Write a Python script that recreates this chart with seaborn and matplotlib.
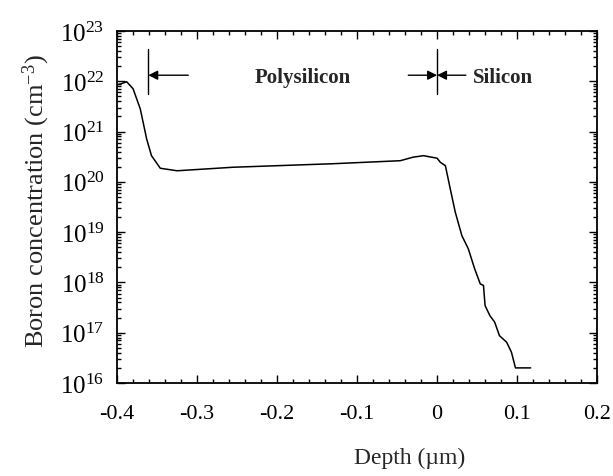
import numpy as np
import pandas as pd
import matplotlib
matplotlib.use("Agg")
import matplotlib.pyplot as plt
import matplotlib.ticker as ticker
import seaborn as sns

# depth in um, log10 of boron concentration (cm^-3)
depth = [-0.400, -0.395, -0.388, -0.380, -0.371, -0.363, -0.357, -0.346,
         -0.325, -0.255, -0.130, -0.046, -0.030, -0.017, 0.0, 0.004,
         0.0104, 0.0165, 0.0227, 0.031, 0.039, 0.043, 0.047, 0.054, 0.058,
         0.060, 0.066, 0.072, 0.078, 0.087, 0.093, 0.098, 0.117]
log_conc = [21.93, 21.95, 21.99, 21.85, 21.45, 20.85, 20.52, 20.27,
            20.22, 20.29, 20.36, 20.42, 20.49, 20.52, 20.47, 20.39,
            20.32, 19.86, 19.40, 18.93, 18.67, 18.47, 18.27, 17.97, 17.94,
            17.54, 17.34, 17.21, 16.94, 16.81, 16.61, 16.30, 16.30]

x_ticks = [-0.4, -0.3, -0.2, -0.1, 0, 0.1, 0.2]
x_tick_labels = ["-0.4", "-0.3", "-0.2", "-0.1", "0", "0.1", "0.2"]

# layer boundaries and annotation labels
boundaries = [-0.361, 0.0]
layer_names = ["Polysilicon", "Silicon"]


def decade_label(y, pos):
    return r"$10^{%d}$" % int(round(np.log10(y)))


def main():
    sns.set_style("ticks")
    plt.rcParams["font.family"] = ["Liberation Serif", "DejaVu Serif"]
    plt.rcParams["mathtext.fontset"] = "custom"
    plt.rcParams["mathtext.rm"] = "Liberation Serif"
    plt.rcParams["mathtext.it"] = "Liberation Serif:italic"

    df = pd.DataFrame({"Depth": depth, "Conc": 10 ** np.array(log_conc)})

    fig = plt.figure(figsize=(6.13, 4.77), dpi=100)
    ax = fig.add_axes([0.191, 0.195, 0.783, 0.738])

    sns.lineplot(x="Depth", y="Conc", data=df, ax=ax, color="black",
                 linewidth=1.1, sort=False)

    ax.set_yscale("log")
    ax.set_xlim(-0.4, 0.2)
    ax.set_ylim(1e16, 1e23)

    ax.set_xticks(x_ticks)
    ax.set_xticklabels(x_tick_labels)
    ax.xaxis.set_minor_locator(ticker.MultipleLocator(0.02))
    ax.yaxis.set_major_locator(ticker.LogLocator(base=10, numticks=10))
    ax.yaxis.set_major_formatter(ticker.FuncFormatter(decade_label))
    ax.yaxis.set_minor_locator(ticker.LogLocator(base=10, subs=np.arange(2, 10), numticks=20))
    ax.yaxis.set_minor_formatter(ticker.NullFormatter())

    ax.tick_params(which="both", direction="in", top=True, right=True,
                   width=1.0, colors="black")
    ax.tick_params(which="major", length=6)
    ax.tick_params(which="minor", length=3)
    ax.tick_params(axis="x", pad=15, labelsize=16)
    ax.tick_params(axis="y", pad=9, labelsize=18)
    for s in ax.spines.values():
        s.set_linewidth(1.3)
        s.set_color("black")

    ax.set_xlabel("Depth (\u00b5m)", fontsize=17)
    ax.xaxis.set_label_coords(0.61, -0.18)
    ax.set_ylabel("Boron concentration (cm$^{-3}$)", fontsize=19)
    ax.yaxis.set_label_coords(-0.135, 0.52)

    # layer markers
    for b in boundaries:
        ax.plot([b, b], [10 ** 21.75, 10 ** 22.64], color="black", lw=1.0)
    ya = 10 ** 22.12
    arrow = dict(arrowstyle="-|>", color="black", lw=1.0, mutation_scale=14,
                 shrinkA=0, shrinkB=0)
    ax.annotate("", xy=(boundaries[0], ya), xytext=(-0.311, ya), arrowprops=arrow)
    ax.annotate("", xy=(boundaries[1], ya), xytext=(-0.036, ya), arrowprops=arrow)
    ax.annotate("", xy=(boundaries[1], ya), xytext=(0.036, ya), arrowprops=arrow)
    ax.text(-0.168, 10 ** 22.08, layer_names[0], ha="center", va="center",
            fontsize=15, fontweight="bold")
    ax.text(0.045, 10 ** 22.08, layer_names[1], ha="left", va="center",
            fontsize=15, fontweight="bold")

    fig.savefig("out.png", dpi=100)


if __name__ == "__main__":
    main()
